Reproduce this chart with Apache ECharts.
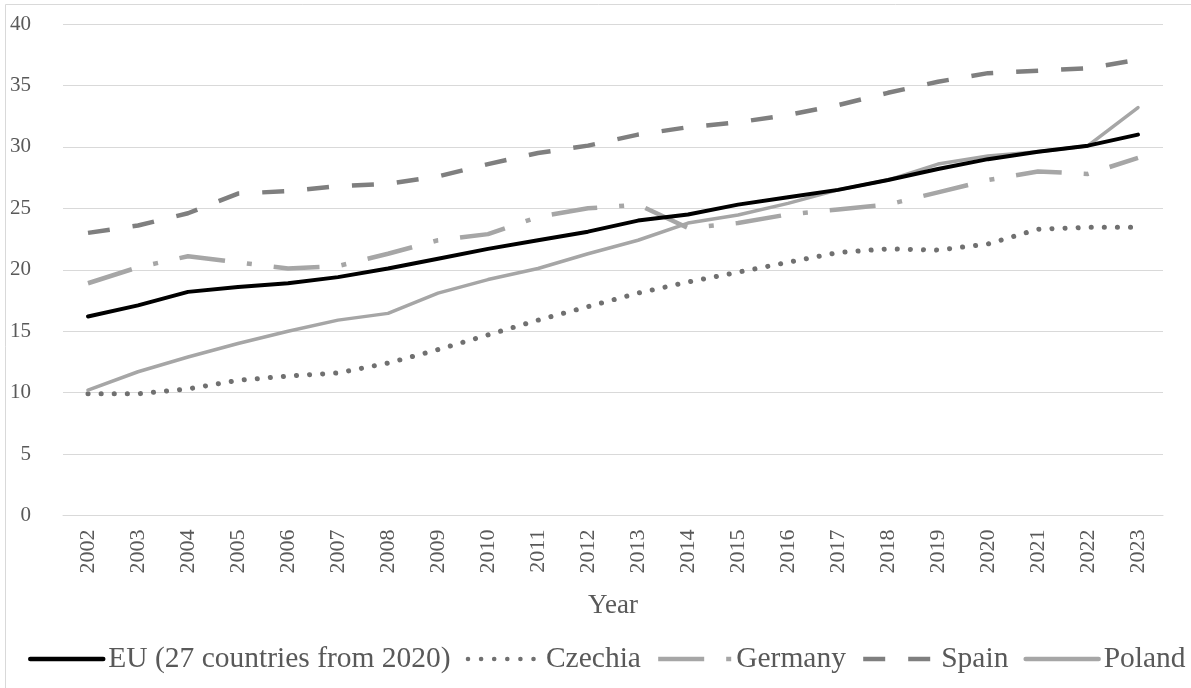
<!DOCTYPE html>
<html>
<head>
<meta charset="utf-8">
<script src="https://cdn.jsdelivr.net/npm/echarts@6/dist/echarts.min.js"></script>
<style>
html,body{margin:0;padding:0;background:#fff;}
#chart{width:1191px;height:688px;}
</style>
</head>
<body>
<div id="chart"></div>
<script>
const years = ['2002','2003','2004','2005','2006','2007','2008','2009','2010','2011','2012','2013','2014','2015','2016','2017','2018','2019','2020','2021','2022','2023'];
const yTicks = {min: 0, max: 40, interval: 5};
const seriesNames = ['EU (27 countries from 2020)', 'Czechia', 'Germany', 'Spain', 'Poland'];
const euValues = [16.2, 17.1, 18.2, 18.6, 18.9, 19.4, 20.1, 20.9, 21.7, 22.4, 23.1, 24.0, 24.5, 25.3, 25.9, 26.5, 27.3, 28.2, 29.0, 29.6, 30.1, 31.0];
const czechiaValues = [9.9, 9.9, 10.3, 11.0, 11.35, 11.6, 12.4, 13.5, 14.7, 15.9, 17.0, 18.1, 19.0, 19.8, 20.6, 21.4, 21.7, 21.6, 22.1, 23.3, 23.45, 23.45];
const germanyValues = [18.9, 20.2, 21.1, 20.6, 20.1, 20.3, 21.3, 22.4, 22.9, 24.3, 25.0, 25.3, 23.4, 23.8, 24.5, 24.9, 25.3, 26.3, 27.3, 28.0, 27.8, 29.1];
const spainValues = [23.0, 23.6, 24.6, 26.2, 26.4, 26.8, 27.0, 27.6, 28.6, 29.5, 30.1, 31.0, 31.6, 32.0, 32.6, 33.4, 34.4, 35.3, 36.0, 36.2, 36.4, 37.1];
const polandValues = [10.2, 11.7, 12.9, 14.0, 15.0, 15.9, 16.45, 18.1, 19.2, 20.1, 21.3, 22.4, 23.8, 24.45, 25.4, 26.5, 27.3, 28.6, 29.25, 29.6, 30.1, 33.2];

const FONT = "'Liberation Serif', 'Times New Roman', serif";
const chart = echarts.init(document.getElementById('chart'), null, {renderer: 'canvas'});

function lineSeries(name, data, color, width, type, cap, z) {
  return {
    name: name,
    type: 'line',
    data: data,
    symbol: 'none',
    showSymbol: false,
    smooth: false,
    z: z,
    itemStyle: {color: color},
    lineStyle: {color: color, width: width, type: type, cap: cap, join: 'round'},
    emphasis: {disabled: true}
  };
}

chart.setOption({
  animation: false,
  backgroundColor: '#ffffff',
  graphic: [{
    type: 'rect',
    shape: {x: 5.5, y: 4.5, width: 1200, height: 700},
    style: {fill: 'none', stroke: '#d9d9d9', lineWidth: 1},
    silent: true,
    z: -10
  }],
  grid: {left: 63, right: 28, top: 24, bottom: 172.5, containLabel: false},
  legend: {
    type: 'plain',
    orient: 'horizontal',
    data: seriesNames,
    left: 28,
    top: 644,
    width: 1300,
    padding: 0,
    itemGap: 15,
    itemWidth: 73,
    itemHeight: 14,
    itemStyle: {opacity: 0},
    lineStyle: {width: 4.5},
    textStyle: {fontFamily: FONT, fontSize: 29.5, color: '#595959'},
    selectedMode: false
  },
  xAxis: {
    type: 'category',
    data: years,
    boundaryGap: true,
    name: 'Year',
    nameLocation: 'middle',
    nameGap: 77,
    nameTextStyle: {fontFamily: FONT, fontSize: 27, color: '#595959'},
    axisLine: {show: true, lineStyle: {color: '#d9d9d9', width: 1}},
    axisTick: {show: false},
    axisLabel: {rotate: 90, margin: 14, fontFamily: FONT, fontSize: 22, color: '#595959', interval: 0},
    splitLine: {show: false}
  },
  yAxis: {
    type: 'value',
    min: yTicks.min,
    max: yTicks.max,
    interval: yTicks.interval,
    axisLine: {show: false},
    axisTick: {show: false},
    axisLabel: {margin: 32, fontFamily: FONT, fontSize: 21, color: '#595959'},
    splitLine: {show: true, lineStyle: {color: '#d9d9d9', width: 1}}
  },
  series: [
    lineSeries(seriesNames[0], euValues, '#000000', 4, 'solid', 'round', 5),
    lineSeries(seriesNames[1], czechiaValues, '#707070', 5, [0.1, 13], 'round', 3),
    lineSeries(seriesNames[2], germanyValues, '#a6a6a6', 4.5, [46, 22, 5, 22], 'butt', 3),
    lineSeries(seriesNames[3], spainValues, '#7f7f7f', 4.5, [22, 23], 'butt', 3),
    lineSeries(seriesNames[4], polandValues, '#a6a6a6', 3.5, 'solid', 'round', 4)
  ]
});
</script>
</body>
</html>
